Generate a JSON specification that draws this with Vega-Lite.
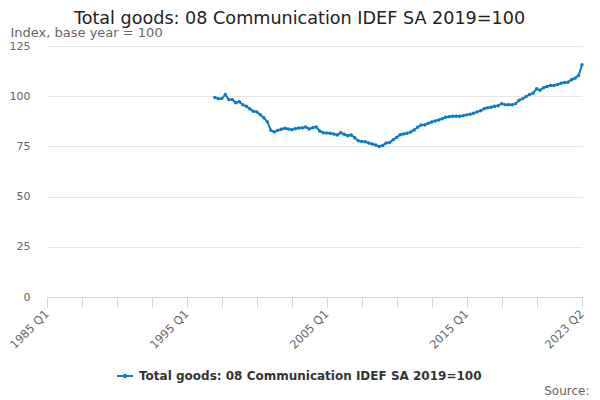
{
  "$schema": "https://vega.github.io/schema/vega-lite/v6.json",
  "width": 535,
  "height": 251,
  "autosize": {"type": "none"},
  "padding": {"left": 47, "top": 46, "right": 18, "bottom": 103},
  "background": "white",
  "config": {
    "font": "DejaVu Sans",
    "view": {"stroke": null}
  },
  "title": {
    "text": "Total goods: 08 Communication IDEF SA 2019=100",
    "anchor": "middle",
    "frame": "group",
    "dx": -15,
    "fontSize": 17.6,
    "fontWeight": "normal",
    "color": "#222222",
    "font": "DejaVu Sans",
    "offset": -2
  },
  "data": {
    "values": [
      {"date": "1997-01-01", "value": 99.3},
      {"date": "1997-04-01", "value": 98.7},
      {"date": "1997-07-01", "value": 98.8},
      {"date": "1997-10-01", "value": 100.8},
      {"date": "1998-01-01", "value": 98.3},
      {"date": "1998-04-01", "value": 98.3},
      {"date": "1998-07-01", "value": 96.7},
      {"date": "1998-10-01", "value": 97.2},
      {"date": "1999-01-01", "value": 95.7},
      {"date": "1999-04-01", "value": 95.0},
      {"date": "1999-07-01", "value": 93.7},
      {"date": "1999-10-01", "value": 92.5},
      {"date": "2000-01-01", "value": 92.2},
      {"date": "2000-04-01", "value": 90.8},
      {"date": "2000-07-01", "value": 89.3},
      {"date": "2000-10-01", "value": 87.3},
      {"date": "2001-01-01", "value": 83.0},
      {"date": "2001-04-01", "value": 82.2},
      {"date": "2001-07-01", "value": 83.0},
      {"date": "2001-10-01", "value": 83.5},
      {"date": "2002-01-01", "value": 84.0},
      {"date": "2002-04-01", "value": 83.7},
      {"date": "2002-07-01", "value": 83.3},
      {"date": "2002-10-01", "value": 83.8},
      {"date": "2003-01-01", "value": 84.2},
      {"date": "2003-04-01", "value": 84.2},
      {"date": "2003-07-01", "value": 84.7},
      {"date": "2003-10-01", "value": 83.7},
      {"date": "2004-01-01", "value": 84.3},
      {"date": "2004-04-01", "value": 84.7},
      {"date": "2004-07-01", "value": 82.7},
      {"date": "2004-10-01", "value": 81.8},
      {"date": "2005-01-01", "value": 81.7},
      {"date": "2005-04-01", "value": 81.5},
      {"date": "2005-07-01", "value": 81.2},
      {"date": "2005-10-01", "value": 80.7},
      {"date": "2006-01-01", "value": 81.8},
      {"date": "2006-04-01", "value": 81.0},
      {"date": "2006-07-01", "value": 80.3},
      {"date": "2006-10-01", "value": 80.7},
      {"date": "2007-01-01", "value": 79.3},
      {"date": "2007-04-01", "value": 77.8},
      {"date": "2007-07-01", "value": 77.5},
      {"date": "2007-10-01", "value": 77.3},
      {"date": "2008-01-01", "value": 76.7},
      {"date": "2008-04-01", "value": 76.2},
      {"date": "2008-07-01", "value": 75.7},
      {"date": "2008-10-01", "value": 75.0},
      {"date": "2009-01-01", "value": 75.5},
      {"date": "2009-04-01", "value": 76.7},
      {"date": "2009-07-01", "value": 77.0},
      {"date": "2009-10-01", "value": 78.3},
      {"date": "2010-01-01", "value": 79.5},
      {"date": "2010-04-01", "value": 80.8},
      {"date": "2010-07-01", "value": 81.2},
      {"date": "2010-10-01", "value": 81.5},
      {"date": "2011-01-01", "value": 82.2},
      {"date": "2011-04-01", "value": 83.2},
      {"date": "2011-07-01", "value": 84.5},
      {"date": "2011-10-01", "value": 85.7},
      {"date": "2012-01-01", "value": 85.7},
      {"date": "2012-04-01", "value": 86.5},
      {"date": "2012-07-01", "value": 87.2},
      {"date": "2012-10-01", "value": 87.7},
      {"date": "2013-01-01", "value": 88.2},
      {"date": "2013-04-01", "value": 88.8},
      {"date": "2013-07-01", "value": 89.5},
      {"date": "2013-10-01", "value": 89.8},
      {"date": "2014-01-01", "value": 90.0},
      {"date": "2014-04-01", "value": 90.0},
      {"date": "2014-07-01", "value": 90.0},
      {"date": "2014-10-01", "value": 90.3},
      {"date": "2015-01-01", "value": 90.7},
      {"date": "2015-04-01", "value": 91.0},
      {"date": "2015-07-01", "value": 91.5},
      {"date": "2015-10-01", "value": 92.2},
      {"date": "2016-01-01", "value": 92.8},
      {"date": "2016-04-01", "value": 93.7},
      {"date": "2016-07-01", "value": 94.3},
      {"date": "2016-10-01", "value": 94.5},
      {"date": "2017-01-01", "value": 95.0},
      {"date": "2017-04-01", "value": 95.2},
      {"date": "2017-07-01", "value": 96.3},
      {"date": "2017-10-01", "value": 95.8},
      {"date": "2018-01-01", "value": 95.7},
      {"date": "2018-04-01", "value": 95.7},
      {"date": "2018-07-01", "value": 96.3},
      {"date": "2018-10-01", "value": 98.0},
      {"date": "2019-01-01", "value": 98.8},
      {"date": "2019-04-01", "value": 99.8},
      {"date": "2019-07-01", "value": 100.8},
      {"date": "2019-10-01", "value": 101.5},
      {"date": "2020-01-01", "value": 103.7},
      {"date": "2020-04-01", "value": 103.0},
      {"date": "2020-07-01", "value": 104.2},
      {"date": "2020-10-01", "value": 104.8},
      {"date": "2021-01-01", "value": 105.3},
      {"date": "2021-04-01", "value": 105.3},
      {"date": "2021-07-01", "value": 105.8},
      {"date": "2021-10-01", "value": 106.5},
      {"date": "2022-01-01", "value": 106.8},
      {"date": "2022-04-01", "value": 107.0},
      {"date": "2022-07-01", "value": 108.2},
      {"date": "2022-10-01", "value": 109.0},
      {"date": "2023-01-01", "value": 110.3},
      {"date": "2023-04-01", "value": 115.7}
    ]
  },
  "mark": {
    "type": "line",
    "strokeWidth": 2,
    "point": {"filled": true, "size": 12}
  },
  "encoding": {
    "x": {
      "field": "date",
      "type": "temporal",
      "scale": {
        "type": "utc",
        "domain": [
          {"year": 1985, "month": 1, "date": 1, "utc": true},
          {"year": 2023, "month": 4, "date": 1, "utc": true}
        ]
      },
      "axis": {
        "title": "Source:",
        "titleX": 542,
        "titleY": 97,
        "titleAlign": "right",
        "titleBaseline": "alphabetic",
        "titleFontSize": 12,
        "titleFontWeight": "normal",
        "titleColor": "#666666",
        "values": [
          {"year": 1985, "month": 1, "date": 1, "utc": true},
          {"year": 1987, "month": 7, "date": 1, "utc": true},
          {"year": 1990, "month": 1, "date": 1, "utc": true},
          {"year": 1992, "month": 7, "date": 1, "utc": true},
          {"year": 1995, "month": 1, "date": 1, "utc": true},
          {"year": 1997, "month": 7, "date": 1, "utc": true},
          {"year": 2000, "month": 1, "date": 1, "utc": true},
          {"year": 2002, "month": 7, "date": 1, "utc": true},
          {"year": 2005, "month": 1, "date": 1, "utc": true},
          {"year": 2007, "month": 7, "date": 1, "utc": true},
          {"year": 2010, "month": 1, "date": 1, "utc": true},
          {"year": 2012, "month": 7, "date": 1, "utc": true},
          {"year": 2015, "month": 1, "date": 1, "utc": true},
          {"year": 2017, "month": 7, "date": 1, "utc": true},
          {"year": 2020, "month": 1, "date": 1, "utc": true},
          {"year": 2023, "month": 4, "date": 1, "utc": true}
        ],
        "labelExpr": "((utcmonth(datum.value) == 0 && (utcyear(datum.value) == 1985 || utcyear(datum.value) == 1995 || utcyear(datum.value) == 2005 || utcyear(datum.value) == 2015)) || utcyear(datum.value) == 2023) ? utcFormat(datum.value, '%Y Q%q') : ''",
        "labelAngle": -45,
        "labelAlign": "right",
        "labelBaseline": "middle",
        "labelFontSize": 11.5,
        "labelColor": "#666666",
        "labelPadding": 5,
        "labelOverlap": false,
        "labelBound": false,
        "labelFlush": false,
        "grid": false,
        "domainColor": "#ccd6eb",
        "tickColor": "#ccd6eb",
        "tickSize": 10
      }
    },
    "y": {
      "field": "value",
      "type": "quantitative",
      "scale": {"domain": [0, 125], "nice": false, "zero": true},
      "axis": {
        "title": "Index, base year = 100",
        "titleAngle": 0,
        "titleX": -37,
        "titleY": -10,
        "titleAlign": "left",
        "titleBaseline": "alphabetic",
        "titleFontSize": 13,
        "titleFontWeight": "normal",
        "titleColor": "#666666",
        "values": [0, 25, 50, 75, 100, 125],
        "labelFontSize": 11,
        "labelColor": "#666666",
        "labelPadding": 17,
        "domain": false,
        "ticks": false,
        "gridColor": "#e6e6e6",
        "gridWidth": 1
      }
    },
    "color": {
      "datum": "Total goods: 08 Communication IDEF SA 2019=100",
      "type": "nominal",
      "scale": {"range": ["#0a7cc4"]},
      "legend": {
        "title": null,
        "orient": "none",
        "legendX": 69,
        "legendY": 321,
        "symbolType": "M-1,0H1M-0.15,0A0.15,0.15,0,1,1,0.15,0A0.15,0.15,0,1,1,-0.15,0",
        "symbolSize": 256,
        "symbolStrokeWidth": 2,
        "symbolFillColor": "#0a7cc4",
        "symbolStrokeColor": "#0a7cc4",
        "labelFontSize": 12,
        "labelFontWeight": "bold",
        "labelColor": "#333333",
        "labelOffset": 5,
        "labelLimit": 500
      }
    }
  }
}
